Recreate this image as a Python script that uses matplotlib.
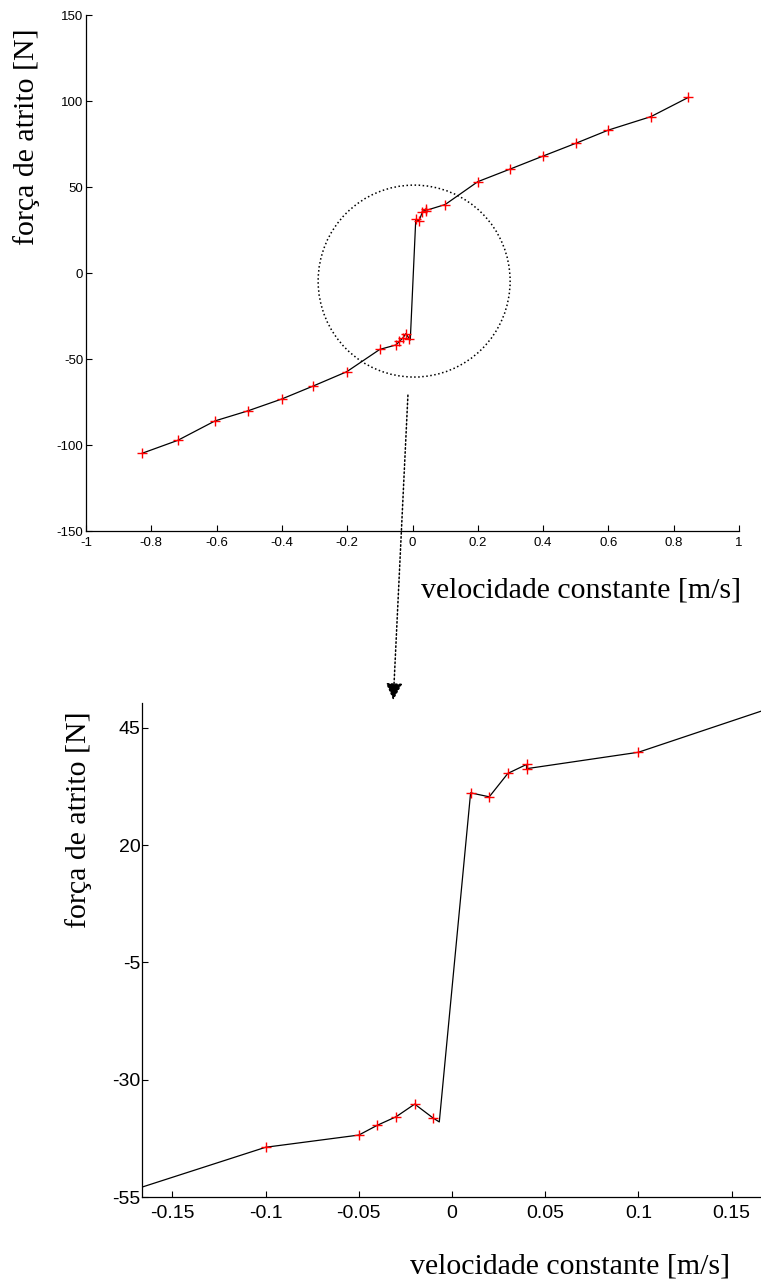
#!/usr/bin/env python
# friction force vs constant velocity, full range on top and a zoom of the
# stick-slip jump around v=0 underneath (circle + arrow point to the zoom)
import numpy as np
import matplotlib
matplotlib.use("Agg")
import matplotlib.pyplot as plt
from matplotlib.patches import Ellipse, ConnectionPatch

OUT = "out.png"

# measured points (red +)
vel = [-0.828, -0.719, -0.605, -0.505, -0.401, -0.304, -0.2015, -0.100,
       -0.050, -0.040, -0.030, -0.020, -0.010,
       0.010, 0.020, 0.030, 0.040, 0.040, 0.100, 0.200, 0.300, 0.400,
       0.500, 0.600, 0.730, 0.845]
force = [-104.8, -97.3, -86.0, -80.2, -73.3, -65.7, -57.4, -44.4,
         -41.8, -39.7, -37.9, -35.2, -38.2,
         31.15, 30.3, 35.3, 37.2, 36.3, 39.8, 53.1, 60.5, 68.0,
         75.4, 83.1, 90.9, 102.1]

# the black line has one extra vertex just before the jump
line_vel = vel[:13] + [-0.0068] + vel[13:]
line_force = force[:13] + [-39.0] + force[13:]

top_xticks = [-1, -0.8, -0.6, -0.4, -0.2, 0, 0.2, 0.4, 0.6, 0.8, 1]
top_xlabels = ["-1", "-0.8", "-0.6", "-0.4", "-0.2", "0", "0.2", "0.4", "0.6", "0.8", "1"]
top_yticks = [-150, -100, -50, 0, 50, 100, 150]
zoom_xticks = [-0.15, -0.1, -0.05, 0, 0.05, 0.1, 0.15]
zoom_xlabels = ["-0.15", "-0.1", "-0.05", "0", "0.05", "0.1", "0.15"]
zoom_yticks = [-55, -30, -5, 20, 45]

SANS = "Liberation Sans"
SERIF = "Liberation Serif"


def style(ax, fs, pad_x, pad_y):
    for s in ("top", "right"):
        ax.spines[s].set_visible(False)
    for s in ("left", "bottom"):
        ax.spines[s].set_linewidth(0.9)
    ax.tick_params(direction="in", length=4, width=0.8, labelsize=fs)
    ax.tick_params(axis="x", pad=pad_x)
    ax.tick_params(axis="y", pad=pad_y)
    for lab in ax.get_xticklabels() + ax.get_yticklabels():
        lab.set_fontfamily(SANS)


W, H = 761, 1283
fig = plt.figure(figsize=(W / 100.0, H / 100.0), dpi=100)

ax1 = fig.add_axes([86 / W, 1 - 531 / H, 653 / W, 516 / H])
ax1.plot(line_vel, line_force, color="black", lw=0.9)
ax1.plot(vel, force, "+", color="red", ms=7, mew=1.0)
ax1.set_xlim(-1, 1)
ax1.set_ylim(-150, 150)
ax1.set_xticks(top_xticks)
ax1.set_xticklabels(top_xlabels)
ax1.set_yticks(top_yticks)
ax1.set_yticklabels([str(t) for t in top_yticks])
style(ax1, 9.5, 4, 2)

# dotted circle round the jump
ax1.add_patch(Ellipse((0.005, -4.7), 0.588, 111.6, fill=False,
                      ls=":", lw=1.1, color="black"))

ax2 = fig.add_axes([142 / W, 1 - 1197 / H, 619 / W, 494 / H])
ax2.plot(line_vel, line_force, color="black", lw=0.9)
ax2.plot(vel, force, "+", color="red", ms=7, mew=1.0)
ax2.set_xlim(-0.1663, 0.1658)
ax2.set_ylim(-55, 50.3)
ax2.set_xticks(zoom_xticks)
ax2.set_xticklabels(zoom_xlabels)
ax2.set_yticks(zoom_yticks)
ax2.set_yticklabels([str(t) for t in zoom_yticks])
style(ax2, 14, 6, 1)

# dotted arrow from the circle down to the zoom
con = ConnectionPatch(xyA=(-0.014, -71), coordsA=ax1.transData,
                      xyB=(-0.0315, 50.9), coordsB=ax2.transData,
                      arrowstyle="-|>,head_length=0.45,head_width=0.22",
                      mutation_scale=23, ls=":", lw=1.1,
                      color="black", fc="black")
fig.add_artist(con)

fig.text(27 / W, 1 - 137 / H, "força de atrito [N]", rotation=90,
         ha="center", va="center", fontsize=21.5, family=SERIF)
fig.text(581 / W, 1 - 590 / H, "velocidade constante [m/s]",
         ha="center", va="center", fontsize=21.5, family=SERIF)
fig.text(79 / W, 1 - 820 / H, "força de atrito [N]", rotation=90,
         ha="center", va="center", fontsize=21.5, family=SERIF)
fig.text(570 / W, 1 - 1266 / H, "velocidade constante [m/s]",
         ha="center", va="center", fontsize=21.5, family=SERIF)

fig.savefig(OUT, dpi=100)
print("wrote %s" % OUT)
